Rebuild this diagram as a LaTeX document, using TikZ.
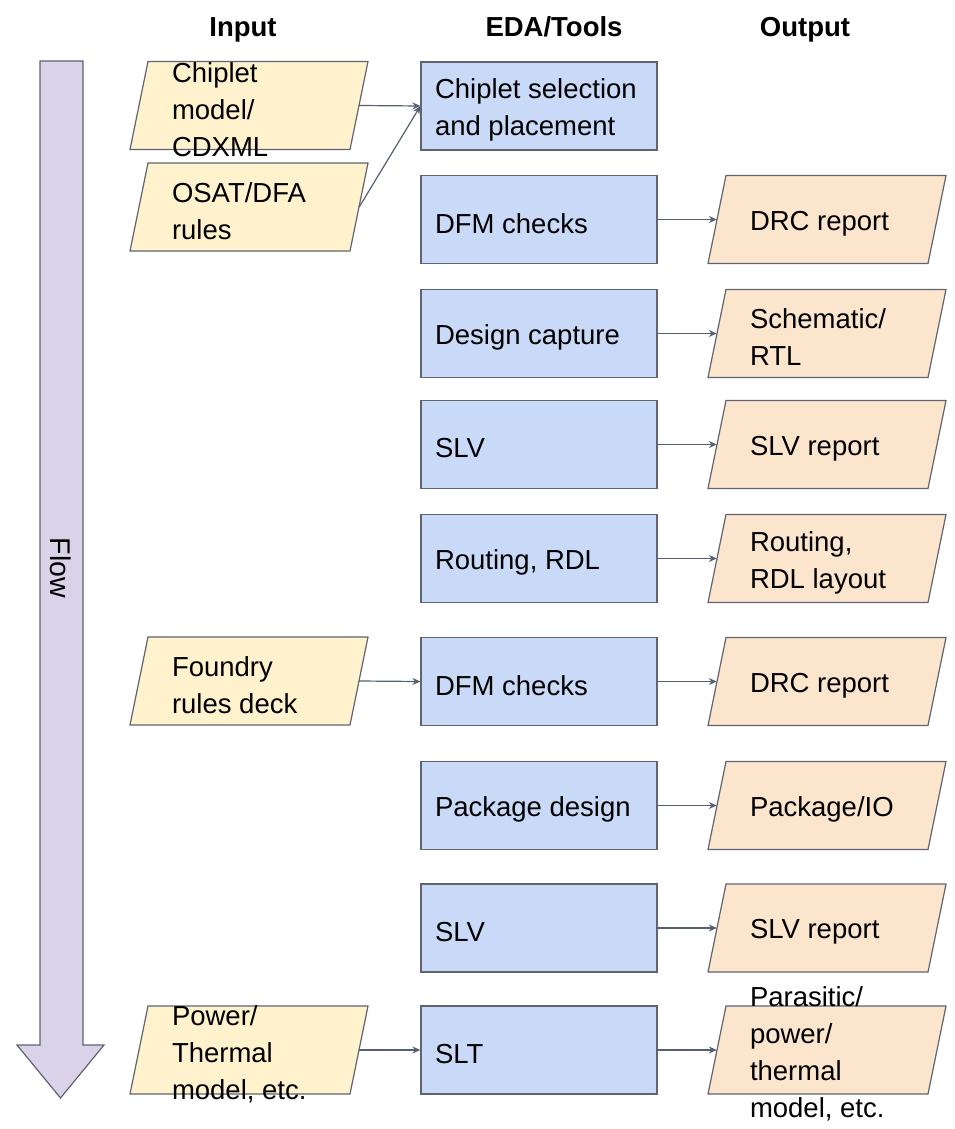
\documentclass[tikz,border=0pt]{standalone}
\usepackage{fontspec}
\setmainfont{Liberation Sans}
\usetikzlibrary{arrows.meta}
\definecolor{edafill}{RGB}{201,218,248}
\definecolor{infill}{RGB}{255,242,204}
\definecolor{outfill}{RGB}{252,229,205}
\definecolor{flowfill}{RGB}{217,210,233}
\definecolor{bordc}{RGB}{95,100,112}
\definecolor{arrc}{RGB}{85,96,116}
\newcommand\lowtext[2]{\raisebox{-4pt}[\height][\depth]{\parbox{#1}{\raggedright #2}}}
\newcommand\mypara[4]{%
  \filldraw[draw=bordc, fill=#3, line width=1.2pt, shift={#2}] (-101,44) -- (119,44) -- (101,-44) -- (-119,-44) -- cycle;
  \node[paranode] (#1) at #2 {\lowtext{154pt}{#4}};
}
\newcommand\eda[3]{\node[edabox] (#1) at #2 {\lowtext{208pt}{#3}};}
\begin{document}
\begin{tikzpicture}[x=1pt,y=1pt,
  every node/.style={font=\fontsize{27.5}{37}\selectfont},
  hdr/.style={font=\fontsize{27.5}{33}\selectfont\bfseries, anchor=base, inner sep=0pt},
  edabox/.style={draw=bordc, fill=edafill, line width=1.2pt, minimum width=236pt, minimum height=88pt, inner xsep=14pt, inner ysep=0pt},
  paranode/.style={minimum width=220pt, inner xsep=33pt, inner ysep=0pt},
  conn/.style={draw=arrc, line width=1.2pt, -{Stealth[length=8pt,width=7pt]}},
]
\useasboundingbox (0,0) rectangle (954,-1129);

% headers
\node[hdr] (hin) at (243,-37) {Input};
\node[hdr] (heda) at (554,-37) {EDA/Tools};
\node[hdr] (hout) at (805,-37) {Output};

% flow arrow
\filldraw[draw=bordc, fill=flowfill, line width=1.2pt] (40,-61) -- (83,-61) -- (83,-1045) -- (104,-1045) -- (60.5,-1098) -- (17,-1045) -- (40,-1045) -- cycle;
\node[rotate=-90, font=\fontsize{28.5}{34}\selectfont] (flow) at (61,-568) {Flow};

% EDA boxes
\eda{e1}{(539,-106)}{Chiplet selection\\and placement}
\eda{e2}{(539,-219.5)}{DFM checks}
\eda{e3}{(539,-333.5)}{Design capture}
\eda{e4}{(539,-444.5)}{SLV}
\eda{e5}{(539,-558.5)}{Routing, RDL}
\eda{e6}{(539,-681.5)}{DFM checks}
\eda{e7}{(539,-805.5)}{Package design}
\eda{e8}{(539,-928)}{SLV}
\eda{e9}{(539,-1050)}{SLT}

% inputs
\mypara{i1}{(249,-105.5)}{infill}{Chiplet\\model/\\CDXML}
\mypara{i2}{(249,-207)}{infill}{OSAT/DFA\\rules}
\mypara{i3}{(249,-681)}{infill}{Foundry\\rules deck}
\mypara{i4}{(249,-1050)}{infill}{Power/\\Thermal\\model, etc.}

% outputs
\mypara{o2}{(827,-219.5)}{outfill}{DRC report}
\mypara{o3}{(827,-333.5)}{outfill}{Schematic/\\RTL}
\mypara{o4}{(827,-444.5)}{outfill}{SLV report}
\mypara{o5}{(827,-558.5)}{outfill}{Routing,\\RDL layout}
\mypara{o6}{(827,-681.5)}{outfill}{DRC report}
\mypara{o7}{(827,-805.5)}{outfill}{Package/IO}
\mypara{o8}{(827,-928)}{outfill}{SLV report}
\mypara{o9}{(827,-1050)}{outfill}{Parasitic/\\power/\\thermal\\model, etc.}

% connectors
\draw[conn] (i1.east) -- (e1.west);
\draw[conn] (i2.east) -- (e1.west);
\draw[conn] (i3.east) -- (e6.west);
\draw[conn] (i4.east) -- (e9.west);
\draw[conn] (e2.east) -- (o2.west);
\draw[conn] (e3.east) -- (o3.west);
\draw[conn] (e4.east) -- (o4.west);
\draw[conn] (e5.east) -- (o5.west);
\draw[conn] (e6.east) -- (o6.west);
\draw[conn] (e7.east) -- (o7.west);
\draw[conn] (e8.east) -- (o8.west);
\draw[conn] (e9.east) -- (o9.west);
\end{tikzpicture}
\end{document}
